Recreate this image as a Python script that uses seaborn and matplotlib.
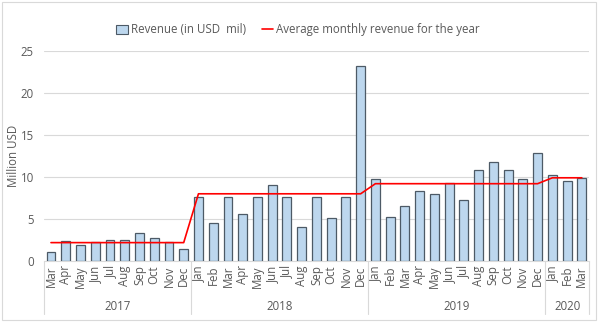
import numpy as np
import pandas as pd
import matplotlib
matplotlib.use("Agg")
import matplotlib.pyplot as plt
import matplotlib.transforms as mtransforms
from matplotlib.lines import Line2D
from matplotlib.patches import Patch, Rectangle
import seaborn as sns

months = ["Mar", "Apr", "May", "Jun", "Jul", "Aug", "Sep", "Oct", "Nov", "Dec",
          "Jan", "Feb", "Mar", "Apr", "May", "Jun", "Jul", "Aug", "Sep", "Oct", "Nov", "Dec",
          "Jan", "Feb", "Mar", "Apr", "May", "Jun", "Jul", "Aug", "Sep", "Oct", "Nov", "Dec",
          "Jan", "Feb", "Mar"]
years = ["2017"] * 10 + ["2018"] * 12 + ["2019"] * 12 + ["2020"] * 3
revenue = [1.1, 2.4, 1.9, 2.3, 2.5, 2.5, 3.3, 2.8, 2.3, 1.4,
           7.6, 4.5, 7.6, 5.6, 7.6, 9.1, 7.6, 4.0, 7.6, 5.1, 7.6, 23.2,
           9.7, 5.2, 6.6, 8.3, 8.0, 9.3, 7.3, 10.8, 11.8, 10.8, 9.7, 12.8,
           10.2, 9.5, 9.9]
year_avg = {"2017": 2.2, "2018": 8.0, "2019": 9.2, "2020": 9.9}

df = pd.DataFrame({"idx": np.arange(len(months)), "month": months, "year": years,
                   "revenue": revenue})
df["avg"] = df["year"].map(year_avg)

sns.set_theme(style="white")
plt.rcParams["font.family"] = ["Open Sans", "DejaVu Sans"]
txt = "#595959"
fs = 8.3

fig = plt.figure(figsize=(6.0, 3.22), dpi=100)
ax = fig.add_axes([0.0727, 0.189, 0.9093, 0.6536])

sns.barplot(data=df, x="idx", y="revenue", color="#BDD7EE", edgecolor="#4D5A66",
            linewidth=0.9, width=0.6, saturation=1, ax=ax, zorder=3)
sns.lineplot(x=df["idx"].to_numpy(), y=df["avg"].to_numpy(), color="#FF0000",
             linewidth=1.2, ax=ax, zorder=4)

ax.set_xlim(-0.5, len(months) - 0.5)
ax.set_ylim(0, 25)
ax.set_yticks([0, 5, 10, 15, 20, 25])
ax.yaxis.grid(True, color="#D9D9D9", linewidth=0.8, zorder=0)
ax.set_axisbelow(True)
for s in ["top", "right", "left"]:
    ax.spines[s].set_visible(False)
ax.spines["bottom"].set_color("#D9D9D9")
ax.spines["bottom"].set_linewidth(0.8)

ax.set_xticks(df["idx"])
ax.set_xticklabels(months, rotation=90, fontsize=fs, color=txt)
ax.tick_params(axis="x", length=0, pad=3)
ax.tick_params(axis="y", length=0, pad=7, labelsize=fs, labelcolor=txt)
ax.set_xlabel("")
ax.set_ylabel("Million USD", fontsize=fs, color=txt)
ax.yaxis.set_label_coords(-0.044, 0.5)

# year grouping
trans = mtransforms.blended_transform_factory(ax.transData, ax.transAxes)
bounds = [-0.5]
order = []
for y in years:
    if y not in order:
        order.append(y)
for y in order:
    idxs = df.index[df["year"] == y]
    bounds.append(idxs.max() + 0.5)
    ax.text((idxs.min() + idxs.max()) / 2, -0.215, y, transform=trans,
            ha="center", va="center", fontsize=fs, color=txt)
for b in bounds:
    ax.add_line(Line2D([b, b], [0, -0.25], transform=trans, color="#D9D9D9",
                       linewidth=0.8, clip_on=False))

handles = [Patch(facecolor="#BDD7EE", edgecolor="#4D5A66", linewidth=0.8),
           Line2D([0], [0], color="#FF0000", linewidth=1.2)]
fig.legend(handles, ["Revenue (in USD  mil)", "Average monthly revenue for the year"],
           loc="center", bbox_to_anchor=(0.497, 0.907), ncol=2, frameon=False,
           fontsize=fs, labelcolor=txt, handlelength=1.0, handleheight=0.8,
           handletextpad=0.25, columnspacing=1.4)

fig.patches.append(Rectangle((0.004, 0.006), 0.99, 0.988, transform=fig.transFigure,
                             fill=False, edgecolor="#D9D9D9", linewidth=0.8))

fig.savefig("out.png", dpi=100)
